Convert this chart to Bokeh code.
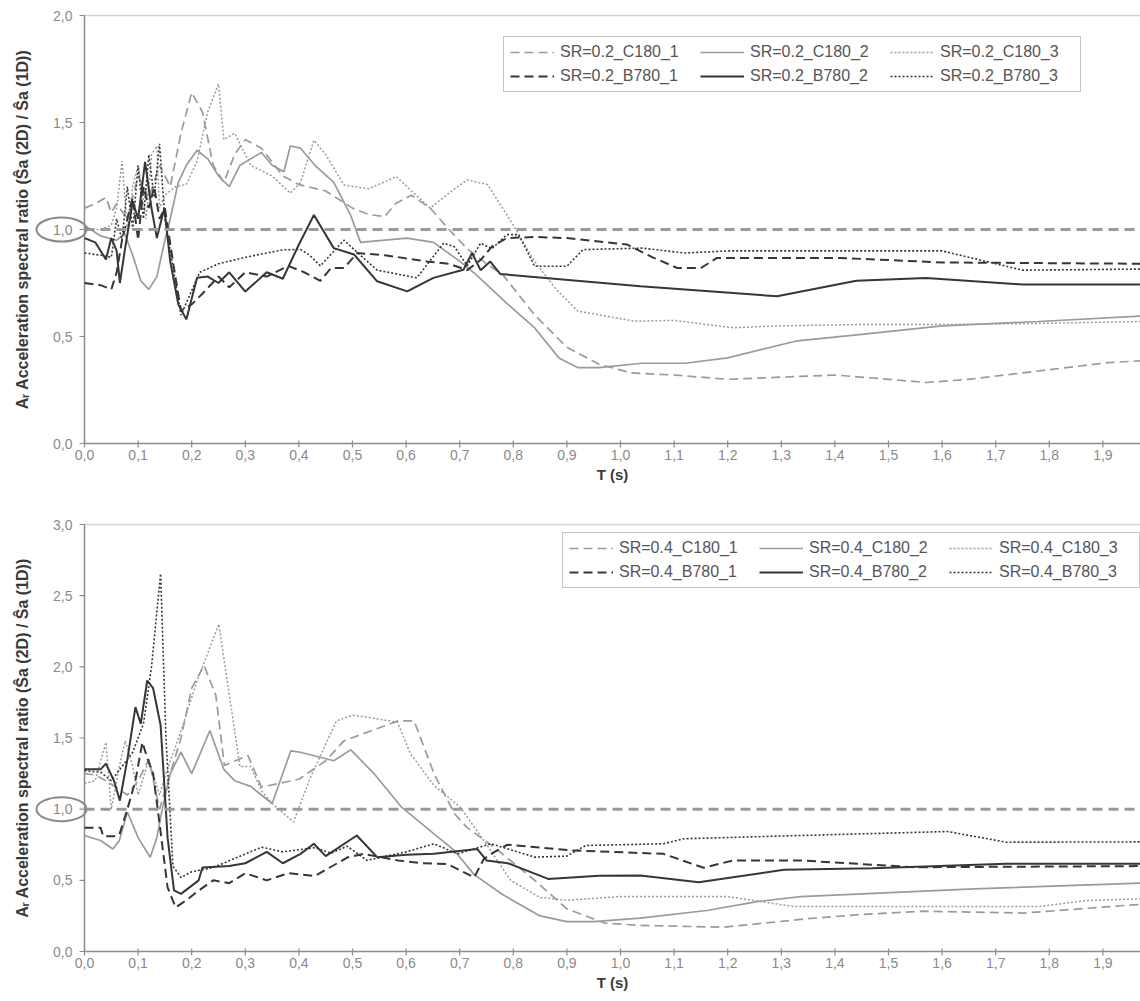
import numpy as np
from bokeh.plotting import figure
from bokeh.layouts import column
from bokeh.models import Legend, LegendItem
from bokeh.core.properties import value
from bokeh.embed import file_html
from bokeh.resources import INLINE

# ---------------- data : SR = 0.2 (top panel) ----------------
top_c180_1_t = [0.0, 0.02, 0.04, 0.05, 0.06, 0.08, 0.10, 0.12, 0.14, 0.16, 0.18, 0.20, 0.22, 0.24, 0.26, 0.28, 0.30, 0.33, 0.37, 0.40, 0.45, 0.50, 0.53, 0.56, 0.58, 0.61, 0.645, 0.68, 0.714, 0.75, 0.78, 0.84, 0.90, 0.96, 1.02, 1.10, 1.20, 1.30, 1.40, 1.50, 1.57, 1.65, 1.75, 1.85, 1.91, 1.97]
top_c180_1_v = [1.10, 1.12, 1.15, 1.08, 1.12, 1.05, 1.25, 1.15, 1.30, 1.20, 1.45, 1.64, 1.55, 1.30, 1.22, 1.35, 1.42, 1.38, 1.25, 1.21, 1.18, 1.10, 1.07, 1.06, 1.12, 1.16, 1.10, 1.00, 0.91, 0.84, 0.79, 0.60, 0.45, 0.37, 0.33, 0.32, 0.30, 0.31, 0.32, 0.30, 0.285, 0.30, 0.33, 0.36, 0.378, 0.386]

top_c180_2_t = [0.0, 0.03, 0.06, 0.075, 0.09, 0.105, 0.12, 0.135, 0.15, 0.16, 0.175, 0.19, 0.21, 0.23, 0.25, 0.27, 0.29, 0.31, 0.33, 0.35, 0.372, 0.384, 0.403, 0.43, 0.465, 0.496, 0.515, 0.56, 0.602, 0.651, 0.701, 0.73, 0.79, 0.84, 0.885, 0.92, 0.96, 1.04, 1.12, 1.20, 1.33, 1.45, 1.60, 1.78, 1.97]
top_c180_2_v = [1.02, 0.97, 0.95, 0.98, 0.88, 0.76, 0.72, 0.78, 0.95, 1.05, 1.22, 1.30, 1.37, 1.33, 1.25, 1.20, 1.30, 1.33, 1.36, 1.30, 1.27, 1.39, 1.38, 1.30, 1.22, 1.07, 0.94, 0.95, 0.96, 0.94, 0.85, 0.79, 0.65, 0.54, 0.40, 0.355, 0.355, 0.375, 0.375, 0.40, 0.48, 0.51, 0.55, 0.57, 0.595]

top_c180_3_t = [0.0, 0.03, 0.05, 0.06, 0.07, 0.08, 0.09, 0.10, 0.115, 0.125, 0.135, 0.14, 0.15, 0.17, 0.19, 0.21, 0.23, 0.25, 0.26, 0.28, 0.31, 0.35, 0.384, 0.403, 0.428, 0.45, 0.484, 0.53, 0.582, 0.61, 0.645, 0.68, 0.714, 0.752, 0.80, 0.84, 0.88, 0.92, 1.025, 1.10, 1.21, 1.30, 1.45, 1.60, 1.75, 1.97]
top_c180_3_v = [1.00, 1.00, 1.02, 1.10, 1.32, 1.00, 1.20, 1.30, 1.05, 1.35, 1.39, 1.10, 1.16, 1.20, 1.21, 1.32, 1.55, 1.68, 1.42, 1.45, 1.30, 1.25, 1.17, 1.22, 1.417, 1.35, 1.208, 1.19, 1.247, 1.18, 1.10, 1.17, 1.232, 1.21, 1.02, 0.85, 0.72, 0.619, 0.572, 0.575, 0.541, 0.55, 0.556, 0.556, 0.56, 0.57]

top_b780_1_t = [0.0, 0.03, 0.05, 0.06, 0.07, 0.08, 0.09, 0.10, 0.11, 0.12, 0.13, 0.14, 0.15, 0.165, 0.18, 0.20, 0.22, 0.25, 0.27, 0.30, 0.34, 0.38, 0.41, 0.44, 0.46, 0.484, 0.509, 0.56, 0.639, 0.68, 0.714, 0.74, 0.76, 0.788, 0.84, 0.90, 1.012, 1.06, 1.106, 1.15, 1.18, 1.41, 1.60, 1.97]
top_b780_1_v = [0.75, 0.74, 0.72, 0.80, 0.95, 1.05, 1.15, 0.95, 1.20, 1.10, 1.20, 1.05, 1.10, 0.85, 0.62, 0.65, 0.70, 0.78, 0.73, 0.80, 0.78, 0.83, 0.80, 0.76, 0.82, 0.82, 0.89, 0.88, 0.851, 0.84, 0.81, 0.86, 0.92, 0.96, 0.965, 0.96, 0.93, 0.87, 0.82, 0.82, 0.867, 0.867, 0.846, 0.84]

top_b780_2_t = [0.0, 0.02, 0.04, 0.05, 0.06, 0.066, 0.075, 0.09, 0.10, 0.113, 0.125, 0.135, 0.149, 0.16, 0.175, 0.19, 0.21, 0.23, 0.25, 0.27, 0.30, 0.34, 0.37, 0.40, 0.428, 0.465, 0.503, 0.546, 0.602, 0.651, 0.707, 0.723, 0.739, 0.757, 0.776, 1.037, 1.292, 1.44, 1.57, 1.75, 1.97]
top_b780_2_v = [0.96, 0.94, 0.86, 0.96, 0.90, 0.75, 0.90, 1.13, 1.05, 1.316, 1.10, 0.96, 1.10, 0.85, 0.65, 0.58, 0.774, 0.78, 0.75, 0.80, 0.71, 0.80, 0.77, 0.93, 1.068, 0.913, 0.883, 0.758, 0.711, 0.774, 0.812, 0.89, 0.81, 0.85, 0.792, 0.735, 0.688, 0.761, 0.773, 0.743, 0.743]

top_b780_3_t = [0.0, 0.03, 0.05, 0.06, 0.07, 0.08, 0.09, 0.10, 0.11, 0.12, 0.13, 0.14, 0.15, 0.16, 0.18, 0.215, 0.25, 0.30, 0.37, 0.403, 0.42, 0.44, 0.484, 0.51, 0.546, 0.62, 0.67, 0.69, 0.714, 0.739, 0.76, 0.788, 0.81, 0.84, 0.90, 0.93, 1.04, 1.12, 1.20, 1.60, 1.75, 1.97]
top_b780_3_v = [0.89, 0.88, 0.87, 1.05, 0.95, 1.20, 1.00, 1.30, 1.05, 1.35, 1.15, 1.40, 1.05, 0.90, 0.60, 0.80, 0.84, 0.87, 0.905, 0.907, 0.88, 0.83, 0.95, 0.89, 0.81, 0.774, 0.936, 0.92, 0.83, 0.936, 0.91, 0.976, 0.976, 0.828, 0.828, 0.906, 0.913, 0.89, 0.90, 0.90, 0.81, 0.815]

# ---------------- data : SR = 0.4 (bottom panel) ----------------
bot_c180_1_t = [0.0, 0.02, 0.04, 0.06, 0.08, 0.10, 0.12, 0.14, 0.16, 0.18, 0.20, 0.223, 0.245, 0.261, 0.305, 0.33, 0.40, 0.45, 0.484, 0.585, 0.615, 0.652, 0.69, 0.714, 0.764, 0.84, 0.90, 0.97, 1.037, 1.193, 1.348, 1.45, 1.566, 1.752, 1.939, 1.97]
bot_c180_1_v = [1.25, 1.24, 1.20, 1.15, 1.10, 1.20, 1.35, 1.00, 1.25, 1.50, 1.85, 2.01, 1.80, 1.307, 1.377, 1.155, 1.21, 1.34, 1.48, 1.62, 1.62, 1.25, 0.97, 0.87, 0.733, 0.50, 0.30, 0.20, 0.183, 0.171, 0.23, 0.26, 0.283, 0.27, 0.323, 0.33]

bot_c180_2_t = [0.0, 0.03, 0.053, 0.065, 0.08, 0.10, 0.1226, 0.135, 0.145, 0.16, 0.18, 0.20, 0.234, 0.26, 0.28, 0.31, 0.35, 0.385, 0.403, 0.465, 0.497, 0.54, 0.59, 0.652, 0.69, 0.727, 0.78, 0.85, 0.90, 0.95, 1.037, 1.161, 1.255, 1.336, 1.66, 1.97]
bot_c180_2_v = [0.815, 0.78, 0.72, 0.78, 0.98, 0.80, 0.662, 0.80, 1.00, 1.25, 1.40, 1.25, 1.553, 1.28, 1.20, 1.16, 1.04, 1.41, 1.40, 1.34, 1.417, 1.25, 1.02, 0.827, 0.71, 0.54, 0.40, 0.25, 0.21, 0.21, 0.234, 0.288, 0.351, 0.386, 0.44, 0.48]

bot_c180_3_t = [0.0, 0.02, 0.04, 0.05, 0.065, 0.076, 0.09, 0.10, 0.12, 0.14, 0.152, 0.18, 0.21, 0.2506, 0.29, 0.31, 0.33, 0.35, 0.39, 0.42, 0.47, 0.50, 0.527, 0.584, 0.608, 0.652, 0.701, 0.745, 0.795, 0.85, 0.90, 1.00, 1.20, 1.323, 1.78, 1.87, 1.97]
bot_c180_3_v = [1.18, 1.20, 1.47, 1.00, 1.30, 1.48, 1.30, 1.10, 1.35, 1.10, 1.25, 1.55, 1.90, 2.30, 1.30, 1.30, 1.13, 1.04, 0.91, 1.21, 1.62, 1.66, 1.647, 1.61, 1.39, 1.166, 1.014, 0.78, 0.50, 0.38, 0.36, 0.386, 0.386, 0.316, 0.316, 0.358, 0.37]

bot_b780_1_t = [0.0, 0.03, 0.035, 0.055, 0.065, 0.08, 0.095, 0.108, 0.118, 0.128, 0.14, 0.155, 0.17, 0.19, 0.21, 0.24, 0.27, 0.30, 0.34, 0.38, 0.43, 0.49, 0.52, 0.585, 0.63, 0.677, 0.727, 0.745, 0.765, 0.789, 0.91, 1.08, 1.155, 1.21, 1.336, 1.548, 1.97]
bot_b780_1_v = [0.87, 0.87, 0.81, 0.81, 0.82, 1.00, 1.20, 1.47, 1.35, 1.25, 0.90, 0.45, 0.31, 0.36, 0.42, 0.50, 0.48, 0.55, 0.50, 0.55, 0.53, 0.66, 0.686, 0.64, 0.62, 0.615, 0.52, 0.65, 0.70, 0.75, 0.71, 0.686, 0.588, 0.64, 0.64, 0.592, 0.60]

bot_b780_2_t = [0.0, 0.03, 0.04, 0.055, 0.066, 0.08, 0.095, 0.105, 0.117, 0.128, 0.142, 0.155, 0.167, 0.18, 0.213, 0.22, 0.27, 0.30, 0.34, 0.37, 0.403, 0.428, 0.45, 0.508, 0.546, 0.60, 0.652, 0.733, 0.75, 0.79, 0.865, 0.96, 1.037, 1.146, 1.305, 1.47, 1.72, 1.97]
bot_b780_2_v = [1.28, 1.28, 1.32, 1.20, 1.06, 1.35, 1.717, 1.60, 1.904, 1.85, 1.59, 0.80, 0.43, 0.405, 0.50, 0.59, 0.60, 0.62, 0.70, 0.62, 0.686, 0.757, 0.67, 0.815, 0.663, 0.68, 0.686, 0.72, 0.64, 0.62, 0.51, 0.533, 0.534, 0.487, 0.574, 0.585, 0.616, 0.616]

bot_b780_3_t = [0.0, 0.03, 0.05, 0.07, 0.09, 0.11, 0.125, 0.142, 0.152, 0.165, 0.18, 0.20, 0.24, 0.33, 0.37, 0.43, 0.46, 0.49, 0.527, 0.60, 0.652, 0.696, 0.758, 0.84, 0.90, 0.935, 1.08, 1.118, 1.336, 1.61, 1.72, 1.97]
bot_b780_3_v = [1.27, 1.26, 1.20, 1.30, 1.40, 1.60, 2.00, 2.654, 1.50, 0.60, 0.52, 0.56, 0.59, 0.733, 0.70, 0.73, 0.69, 0.74, 0.64, 0.70, 0.757, 0.686, 0.757, 0.663, 0.67, 0.745, 0.757, 0.792, 0.815, 0.843, 0.768, 0.77]

x_ticks = [0.0, 0.1, 0.2, 0.3, 0.4, 0.5, 0.6, 0.7, 0.8, 0.9, 1.0, 1.1, 1.2, 1.3, 1.4, 1.5, 1.6, 1.7, 1.8, 1.9]
top_y_ticks = [0.0, 0.5, 1.0, 1.5, 2.0]
bot_y_ticks = [0.0, 0.5, 1.0, 1.5, 2.0, 2.5, 3.0]
reference_ratio = 1.0

top_names = ["SR=0.2_C180_1", "SR=0.2_C180_2", "SR=0.2_C180_3",
             "SR=0.2_B780_1", "SR=0.2_B780_2", "SR=0.2_B780_3"]
bot_names = ["SR=0.4_C180_1", "SR=0.4_C180_2", "SR=0.4_C180_3",
             "SR=0.4_B780_1", "SR=0.4_B780_2", "SR=0.4_B780_3"]

top_series = [(top_c180_1_t, top_c180_1_v), (top_c180_2_t, top_c180_2_v), (top_c180_3_t, top_c180_3_v),
              (top_b780_1_t, top_b780_1_v), (top_b780_2_t, top_b780_2_v), (top_b780_3_t, top_b780_3_v)]
bot_series = [(bot_c180_1_t, bot_c180_1_v), (bot_c180_2_t, bot_c180_2_v), (bot_c180_3_t, bot_c180_3_v),
              (bot_b780_1_t, bot_b780_1_v), (bot_b780_2_t, bot_b780_2_v), (bot_b780_3_t, bot_b780_3_v)]

# ---------------- styling / layout ----------------
GRAY = "#9b9b9b"
DARK = "#363636"
AXIS = "#8c8c8c"
TICK_TXT = "#8a8a8a"
STYLES = [
    dict(line_color=GRAY, line_width=1.7, line_dash="9 5"),
    dict(line_color=GRAY, line_width=1.7, line_dash="solid"),
    dict(line_color=GRAY, line_width=1.5, line_dash="2 2"),
    dict(line_color=DARK, line_width=2.0, line_dash="9 5"),
    dict(line_color=DARK, line_width=2.0, line_dash="solid"),
    dict(line_color=DARK, line_width=1.6, line_dash="2 2"),
]
YLABEL = "A\u1d63 Acceleration spectral ratio (\u015ca (2D) / \u015ca (1D))"
XLABEL = "T (s)"
FONT = "Liberation Sans"
W = 1140          # canvas width
LEFT_PX = 84      # position of the value axis
PX_PER_T = 536.0  # horizontal scale
X_START = -LEFT_PX / PX_PER_T
X_END = (W - LEFT_PX) / PX_PER_T


def fmt(v):
    return f"{v:.1f}".replace(".", ",")


def make_panel(series, names, y_max, y_ticks, canvas_h, axis_px, top_px, legend_loc):
    ppu = (axis_px - top_px) / y_max       # pixels per unit on the y scale
    dx = 1.0 / PX_PER_T                    # one pixel in x data units
    dy = 1.0 / ppu                         # one pixel in y data units
    p = figure(width=W, height=canvas_h, title=None,
               x_range=(X_START, X_END), y_range=(-(canvas_h - axis_px) * dy, axis_px * dy),
               x_axis_location=None, y_axis_location=None,
               output_backend="svg", toolbar_location=None,
               min_border=0, min_border_left=0, min_border_right=0,
               min_border_top=0, min_border_bottom=0,
               background_fill_color="white", border_fill_color="white",
               outline_line_color=None)
    p.grid.visible = False

    # frame: light top border, axis lines
    p.line([0, X_END], [y_max, y_max], line_color="#d2d2d2", line_width=1.5)
    p.line([0, 0], [0, y_max], line_color=AXIS, line_width=1.5)
    p.line([0, X_END], [0, 0], line_color=AXIS, line_width=1.5)

    # data
    items = []
    for (t, v), name, st in zip(series, names, STYLES):
        r = p.line(t, v, **st)
        items.append(LegendItem(label=name, renderers=[r]))

    # reference ratio = 1
    p.line([0, X_END], [reference_ratio, reference_ratio], line_color="#9a9a9a",
           line_width=3, line_dash="10 6")

    # ticks
    p.segment(x0=[-5 * dx] * len(y_ticks), x1=[0] * len(y_ticks), y0=y_ticks, y1=y_ticks,
              line_color=AXIS, line_width=1.2)
    p.segment(x0=x_ticks, x1=x_ticks, y0=[-4 * dy] * len(x_ticks), y1=[3 * dy] * len(x_ticks),
              line_color=AXIS, line_width=1.2)

    # tick labels
    p.text(x=[-12 * dx] * len(y_ticks), y=y_ticks, text=[fmt(v) for v in y_ticks],
           text_align="right", text_baseline="middle", text_font=value(FONT),
           text_font_size=value("14px"), text_color=TICK_TXT)
    p.text(x=x_ticks, y=[-6 * dy] * len(x_ticks), text=[fmt(v) for v in x_ticks],
           text_align="center", text_baseline="top", text_font=value(FONT),
           text_font_size=value("14px"), text_color=TICK_TXT)

    # axis titles
    p.text(x=[(X_END) / 2], y=[-22 * dy], text=[XLABEL], text_align="center",
           text_baseline="top", text_font=value(FONT), text_font_size=value("15px"),
           text_font_style="bold", text_color="#3a3a3a")
    p.text(x=[-62 * dx], y=[y_max / 2], text=[YLABEL], angle=np.pi / 2,
           text_align="center", text_baseline="middle", text_font=value(FONT),
           text_font_size=value("16px"), text_font_style="bold", text_color="#3a3a3a")

    # circle around the 1,0 label
    p.ellipse(x=[-23 * dx], y=[reference_ratio], width=50, height=24,
              width_units="screen", height_units="screen",
              fill_color=None, line_color="#8a8a8a", line_width=2)

    legend = Legend(items=items, location=legend_loc, orientation="horizontal", ncols=3,
                    label_text_font=FONT, label_text_font_size="16px",
                    label_text_color="#555555", glyph_width=44, glyph_height=16,
                    label_standoff=6, label_width=134, label_height=18,
                    spacing=6, padding=6, margin=0,
                    border_line_color="#8c8c8c", border_line_width=1.3,
                    background_fill_color="white", background_fill_alpha=1)
    p.add_layout(legend)
    return p


top = make_panel(top_series, top_names, 2.0, top_y_ticks, 495, 443, 15, (503, 403))
bot = make_panel(bot_series, bot_names, 3.0, bot_y_ticks, 506, 456, 29, (562, 413))

layout = column(top, bot, spacing=0)
open("out.html", "w").write(file_html(layout, INLINE))
